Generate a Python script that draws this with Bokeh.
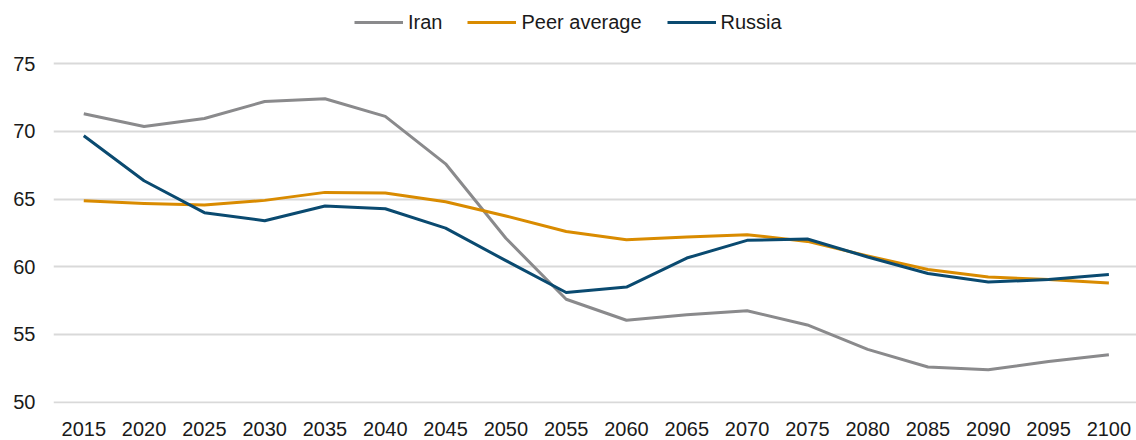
from bokeh.plotting import figure
from bokeh.models import Range1d, FixedTicker, Legend, LegendItem
from bokeh.embed import file_html
from bokeh.resources import INLINE

years = [2015, 2020, 2025, 2030, 2035, 2040, 2045, 2050, 2055,
         2060, 2065, 2070, 2075, 2080, 2085, 2090, 2095, 2100]
iran = [71.3, 70.35, 70.95, 72.2, 72.4, 71.1, 67.6, 62.1, 57.6,
        56.05, 56.45, 56.75, 55.7, 53.9, 52.6, 52.4, 53.0, 53.5]
peer_average = [64.87, 64.67, 64.55, 64.9, 65.49, 65.44, 64.8, 63.75, 62.6,
                62.0, 62.2, 62.37, 61.87, 60.8, 59.8, 59.24, 59.05, 58.8]
russia = [69.67, 66.35, 63.99, 63.4, 64.48, 64.28, 62.85, 60.45, 58.1,
          58.5, 60.64, 61.95, 62.05, 60.72, 59.5, 58.87, 59.05, 59.42]
y_ticks = [50, 55, 60, 65, 70, 75]

series = [("Iran", iran, "#8a8a8c"),
          ("Peer average", peer_average, "#d98b00"),
          ("Russia", russia, "#0a4a70")]

FONT = "Liberation Sans"
TEXT = "#1a1a1a"

p = figure(width=1136, height=440, output_backend="svg", toolbar_location=None,
           x_range=Range1d(2012.49, 2102.29), y_range=Range1d(49.9, 79.66),
           min_border_left=53, min_border_right=0, min_border_top=0,
           min_border_bottom=37)
p.outline_line_color = None
p.background_fill_color = "white"
p.border_fill_color = "white"

renderers = []
for name, vals, col in series:
    r = p.line(years, vals, line_color=col, line_width=3, line_join="round")
    renderers.append((name, r))

p.xaxis.ticker = FixedTicker(ticks=years)
p.yaxis.ticker = FixedTicker(ticks=y_ticks)
for ax in (p.xaxis, p.yaxis):
    ax.axis_line_color = None
    ax.major_tick_line_color = None
    ax.minor_tick_line_color = None
    ax.major_tick_out = 0
    ax.major_tick_in = 0
    ax.major_label_text_font = FONT
    ax.major_label_text_font_size = "20px"
    ax.major_label_text_color = TEXT
p.xaxis.major_label_standoff = 18
p.yaxis.major_label_standoff = 18

p.xgrid.grid_line_color = None
p.ygrid.grid_line_color = "#d9d9d9"
p.ygrid.grid_line_width = 2

legend = Legend(items=[LegendItem(label=n, renderers=[r]) for n, r in renderers],
                orientation="horizontal", location=(301, 366.7),
                glyph_width=49, glyph_height=28, label_height=28,
                label_standoff=5, spacing=25, padding=0, margin=0,
                border_line_color=None, background_fill_alpha=0,
                label_text_font=FONT, label_text_font_size="20px",
                label_text_color=TEXT)
p.add_layout(legend)

open("out.html", "w").write(file_html(p, INLINE))
